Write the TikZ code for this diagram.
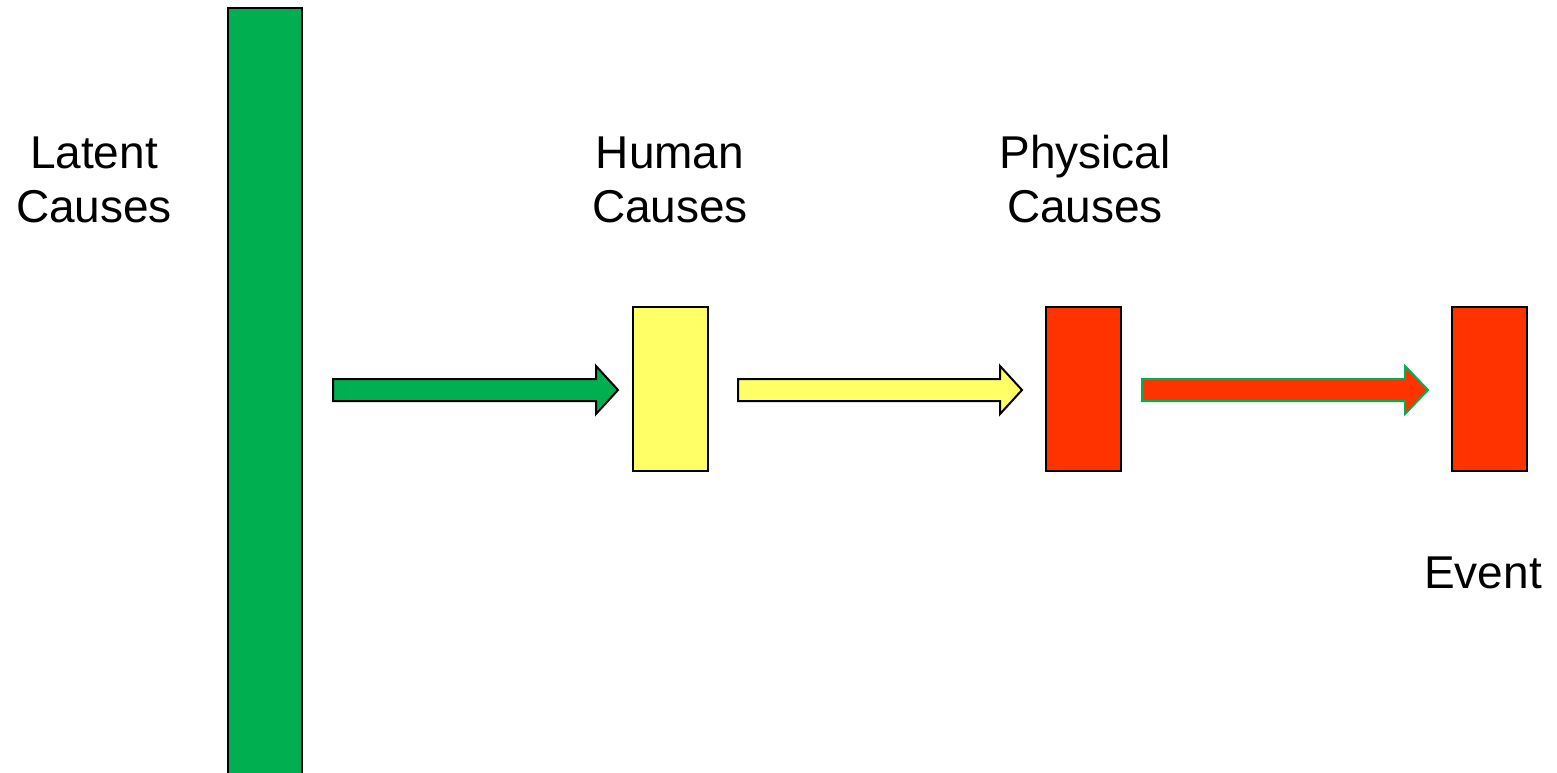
\documentclass[tikz,border=0pt]{standalone}
\usepackage{fontspec}
\setmainfont{Liberation Sans}
\usetikzlibrary{calc}
\definecolor{cgreen}{HTML}{00B050}
\definecolor{cyellow}{HTML}{FFFF66}
\definecolor{cred}{HTML}{FF3300}
\tikzset{
  causebox/.style={draw=black, line width=2pt, rectangle, inner sep=0pt, minimum width=75pt, minimum height=164pt},
  label text/.style={font=\fontsize{46}{54}\selectfont, align=center, inner sep=0pt, anchor=base},
  blockarrow/.style={line width=2pt, line join=miter},
}
% block arrow from #1 (tail x) to #3 (tip x), head starting at #2, centred on y=390
\newcommand\blockarr[4]{%
  \draw[blockarrow,#4] (#1,379) -- (#2,379) -- (#2,366) -- (#3,390) -- (#2,414) -- (#2,401) -- (#1,401) -- cycle;}
\begin{document}
\begin{tikzpicture}[x=1pt,y=-1pt]
  \useasboundingbox (0,0) rectangle (1557,772);
  \clip (0,0) rectangle (1557,772);

  % latent causes: tall bar running off the bottom
  \node[causebox, fill=cgreen, minimum width=74pt, minimum height=800pt] (latent) at (265,408) {};
  \node[causebox, fill=cyellow] (human) at (670,389) {};
  \node[causebox, fill=cred] (physical) at (1083.5,389) {};
  \node[causebox, fill=cred] (event) at (1489.5,389) {};

  % labels (base anchor sits on the last line)
  \node[label text] (latentlbl) at (94,222) {Latent\\Causes};
  \node[label text] (humanlbl) at (670,222) {Human\\Causes};
  \node[label text] (physlbl) at (1085,222) {Physical\\Causes};
  \node[label text] (eventlbl) at (1483,588) {Event};

  % arrows between the stages
  \blockarr{333}{596}{618}{draw=black, fill=cgreen}
  \blockarr{738}{1000}{1022}{draw=black, fill=cyellow}
  \blockarr{1142}{1405}{1428}{draw=cgreen, fill=cred}
\end{tikzpicture}
\end{document}
